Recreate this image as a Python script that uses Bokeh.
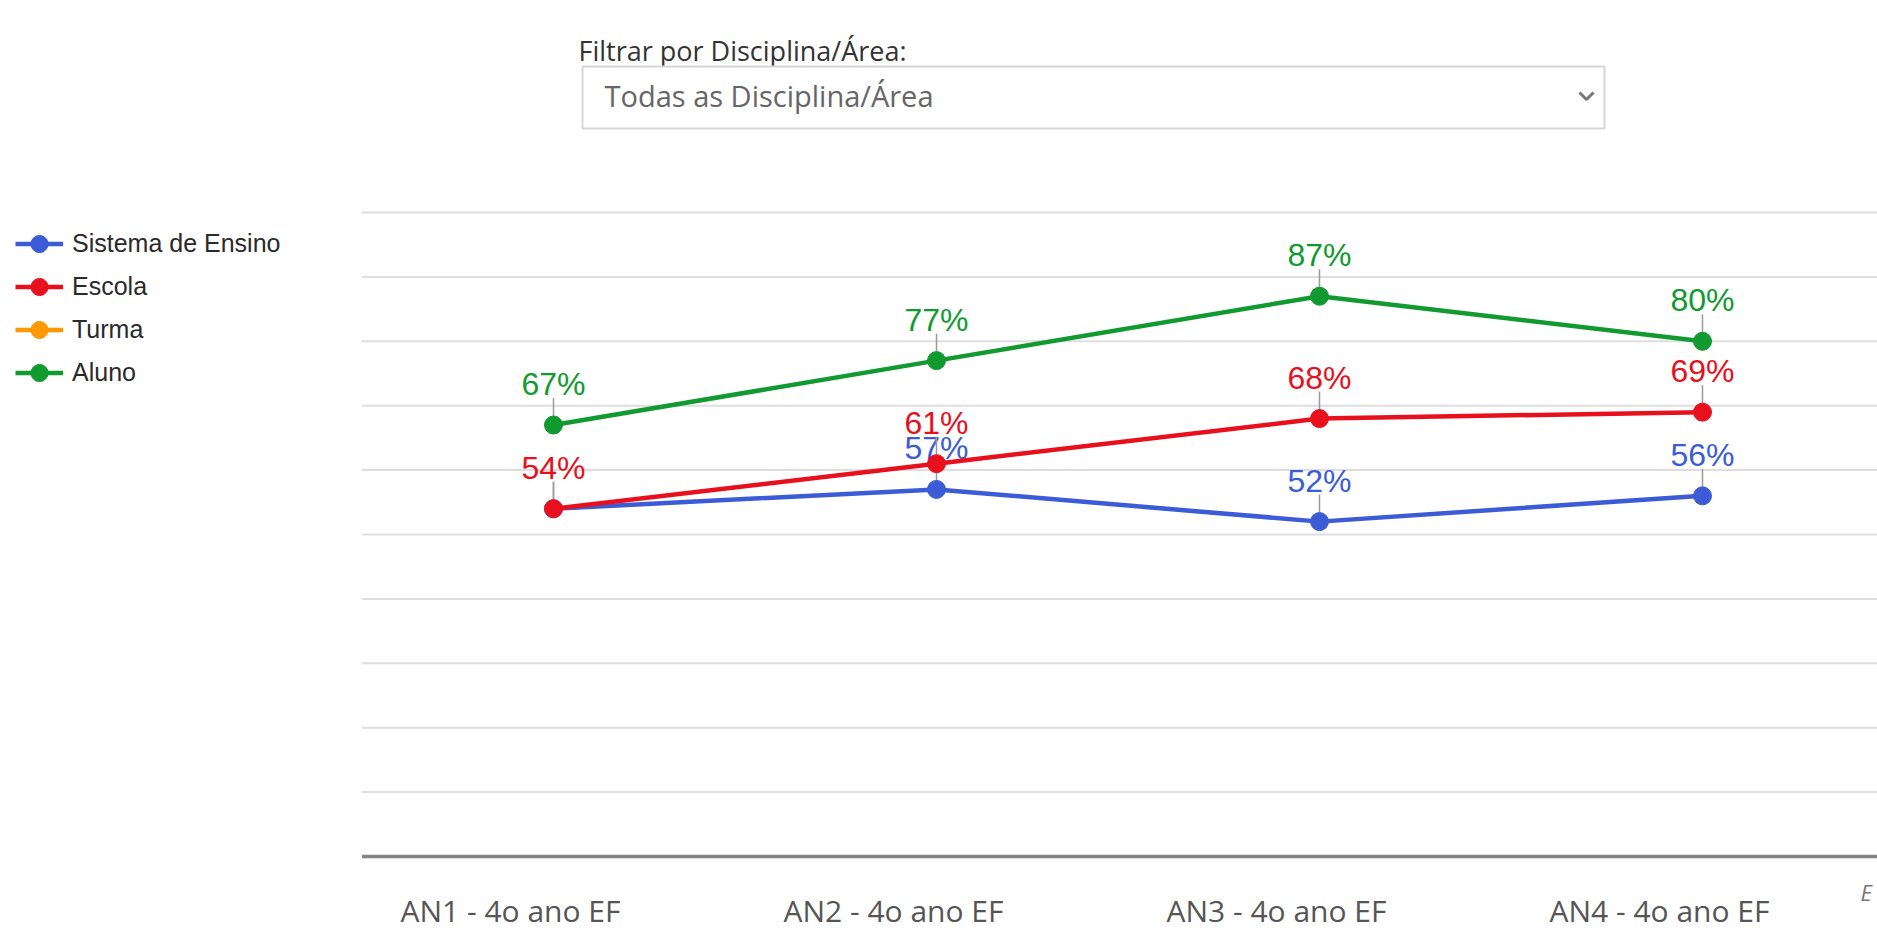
import math
import numpy as np
from bokeh.plotting import figure
from bokeh.models import Range1d, Legend, LegendItem, ColumnDataSource
from bokeh.core.properties import value
from bokeh.embed import file_html
from bokeh.resources import INLINE

# ---------------- data ----------------
categories = ["AN1 - 4o ano EF", "AN2 - 4o ano EF", "AN3 - 4o ano EF", "AN4 - 4o ano EF"]
series_names = ["Sistema de Ensino", "Escola", "Turma", "Aluno"]
sistema = [54, 57, 52, 56]
escola = [54, 61, 68, 69]
turma = [None, None, None, None]
aluno = [67, 77, 87, 80]
grid_values = [0, 10, 20, 30, 40, 50, 60, 70, 80, 90, 100]
filter_label = "Filtrar por Disciplina/Área:"
filter_value = "Todas as Disciplina/Área"
corner_text = "E"

# ---------------- layout / style ----------------
W, H = 1877, 930
MARGIN = 0
X0_PAGE = 553        # page x of first category
PX_PER_CAT = 383     # px between categories
BASE_PAGE = 856      # page y of 0 %
PX_PER_PCT = 6.44    # px per 1 %

colors = ["#3c5bd6", "#e8101c", "#ff9900", "#119a2f"]
SANS = value("Liberation Sans")
OPEN = value("Open Sans")


def px_to_x(px):
    return (px - X0_PAGE) / PX_PER_CAT


def py_to_y(py):
    return (BASE_PAGE - py) / PX_PER_PCT


p = figure(
    width=W, height=H,
    x_range=Range1d(px_to_x(MARGIN), px_to_x(MARGIN + W)),
    y_range=Range1d(py_to_y(MARGIN + H), py_to_y(MARGIN)),
    output_backend="svg", toolbar_location=None,
    x_axis_location=None, y_axis_location=None,
    min_border=0, outline_line_color=None,
    background_fill_color="white", border_fill_color="white",
)
p.xgrid.visible = False
p.ygrid.visible = False

idx = list(range(len(categories)))

# gridlines
gv = [g for g in grid_values if g != 0]
p.segment(x0=[-0.5] * len(gv), x1=[len(categories) - 0.5] * len(gv), y0=gv, y1=gv,
          line_color="#dedede", line_width=2)
p.segment(x0=[-0.5], x1=[len(categories) - 0.5], y0=[grid_values[0]], y1=[grid_values[0]],
          line_color="#858585", line_width=3.5)

# series
all_series = [sistema, escola, turma, aluno]
legend_items = []
for s_i, (name, vals, col) in enumerate(zip(series_names, all_series, colors)):
    arr = np.array(vals, dtype=float)
    src = ColumnDataSource(dict(x=idx, y=arr))
    lr = p.line("x", "y", source=src, line_color=col, line_width=4.5, line_join="round")
    valid = ~np.isnan(arr)
    if valid.any():
        xs = [i for i in idx if valid[i]]
        ys = [float(arr[i]) for i in idx if valid[i]]
        p.ray(x=xs, y=ys, length=27, length_units="screen", angle=math.pi / 2,
              line_color="#999999", line_width=1.5)
    sr = p.scatter("x", "y", source=src, size=18, fill_color=col, line_color=col)
    # labels (skip if a later series has the same value at the same point)
    lx, ly, lt = [], [], []
    for i in idx:
        if not valid[i]:
            continue
        dup = False
        for later in all_series[s_i + 1:]:
            if later[i] is not None and later[i] == vals[i]:
                dup = True
        if dup:
            continue
        lx.append(i)
        ly.append(float(arr[i]))
        lt.append(f"{int(vals[i])}%")
    if lx:
        p.text(x=lx, y=ly, text=lt, y_offset=-41, text_align="center",
               text_baseline="alphabetic", text_font=SANS, text_font_size="32px",
               text_color=col)
    legend_items.append(LegendItem(label=name, renderers=[lr, sr]))

legend = Legend(items=legend_items, location=(15, 536), orientation="vertical",
                glyph_width=48, glyph_height=43, spacing=0, padding=0, margin=0,
                label_standoff=9, label_text_font="Liberation Sans",
                label_text_font_size="25px", label_text_color="#2a2a2a",
                label_text_baseline="middle",
                border_line_alpha=0, background_fill_alpha=0)
p.add_layout(legend)

# category labels
p.text(x=idx, y=[py_to_y(910)] * len(idx), text=categories, x_offset=-43,
       text_align="center", text_baseline="alphabetic", text_font=OPEN,
       text_font_size="30px", text_color="#555555")

# filter header + select box
p.text(x=[px_to_x(578)], y=[py_to_y(50)], text=[filter_label], text_align="left",
       text_baseline="alphabetic", text_font=OPEN, text_font_size="27px",
       text_color="#333333")
p.quad(left=[px_to_x(582)], right=[px_to_x(1604)], top=[py_to_y(66)], bottom=[py_to_y(128)],
       fill_color="white", line_color="#d6d6d6", line_width=2)
p.text(x=[px_to_x(604)], y=[py_to_y(95)], text=[filter_value], text_align="left",
       text_baseline="alphabetic", text_font=OPEN, text_font_size="29px",
       text_color="#666666")
p.line(x=[px_to_x(1579), px_to_x(1586), px_to_x(1593)],
       y=[py_to_y(92), py_to_y(99), py_to_y(92)], line_color="#777777", line_width=3)

# corner text at the window edge
p.text(x=[px_to_x(1860)], y=[py_to_y(891)], text=[corner_text], text_align="left",
       text_baseline="alphabetic", text_font=OPEN, text_font_size="22px",
       text_font_style="italic", text_color="#777777")

open("out.html", "w").write(file_html(p, INLINE))
